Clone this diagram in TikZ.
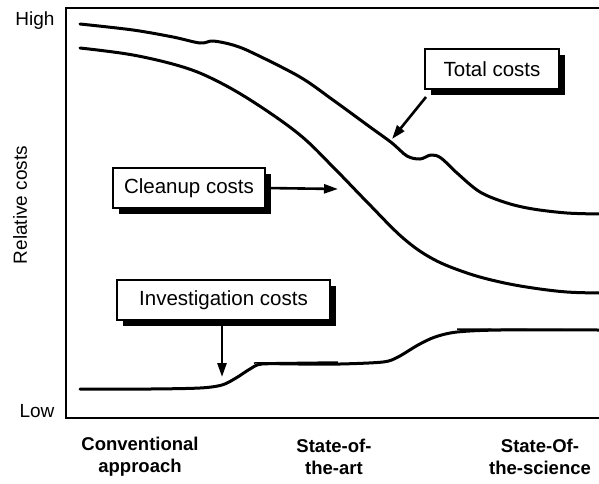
\documentclass[tikz,border=0pt]{standalone}
\usepackage{fontspec}
\setmainfont{Liberation Sans}
\usetikzlibrary{arrows.meta,shadows}
\begin{document}
\begin{tikzpicture}[x=1pt,y=-1pt,
  curve/.style={line width=3pt,line cap=round,line join=round},
  callout/.style={draw,line width=1.5pt,fill=white,minimum height=40pt,inner sep=0pt,
    font=\fontsize{20.5}{24}\selectfont,
    drop shadow={shadow xshift=6pt,shadow yshift=-6pt,fill=black,opacity=1}},
  pointer/.style={line width=2.6pt,-{Triangle[length=14pt,width=9pt]}},
  tick/.style={font=\fontsize{18.5}{22}\selectfont\bfseries,align=center},
  axislab/.style={font=\fontsize{19}{20}\selectfont}]
\useasboundingbox (0,0) rectangle (599,483);
% frame
\draw[line width=1.8pt] (600,8) -- (66,8) -- (66,418) -- (600,418);
% axis labels
\node[axislab,anchor=east] (high) at (58,21) {High};
\node[axislab,anchor=east] (low) at (58,411) {Low};
\node[axislab,rotate=90] (rel) at (20,205) {Relative costs};
\node[tick] (t1) at (140,457) {Conventional\\approach};
\node[tick] (t2) at (334,457) {State-of-\\the-art};
\node[tick] (t3) at (540,457) {State-Of-\\the-science};
% total costs curve
\draw[curve] plot[smooth,tension=0.55] coordinates {(80,24) (133,30) (173,37) (200,43) (213,41) (233,45) (253,53) (300,77) (333,100) (370,127) (392,143) (407,156) (420,159) (431,155) (441,158) (457,173) (480,192) (507,203) (533,209) (567,213) (600,214)};
% cleanup costs curve
\draw[curve] plot[smooth,tension=0.6] coordinates {(80,48) (133,55) (183,67) (217,81) (255,103) (300,135) (335,169) (367,202) (403,238) (433,259) (467,273) (500,282) (533,288) (567,292) (600,293)};
% investigation costs curve
\draw[curve] plot[smooth,tension=0.5] coordinates {(80,389) (150,389) (200,388) (222,385) (236,378) (250,369) (262,364) (300,364) (340,364) (383,362) (398,357) (418,345) (435,337) (457,332) (500,330) (600,330)};
\draw[line width=1.5pt] (254,363) -- (338,362);
\draw[line width=1.5pt] (457,329) -- (600,330);
% pointer targets on curves
\coordinate (ptot) at (392,139);
\coordinate (pclean) at (338,189);
\coordinate (pinv) at (222,377);
% callouts
\node[callout,minimum width=134pt] (total) at (492,69) {Total costs};
\node[callout,minimum width=152pt] (clean) at (189,188) {Cleanup costs};
\node[callout,minimum width=213pt] (inv) at (223.5,300) {Investigation costs};
% pointers
\draw[pointer] (426,97) -- (ptot);
\draw[pointer] (clean.east) -- (pclean);
\draw[pointer] (inv.south -| pinv) -- (pinv);
\end{tikzpicture}
\end{document}
